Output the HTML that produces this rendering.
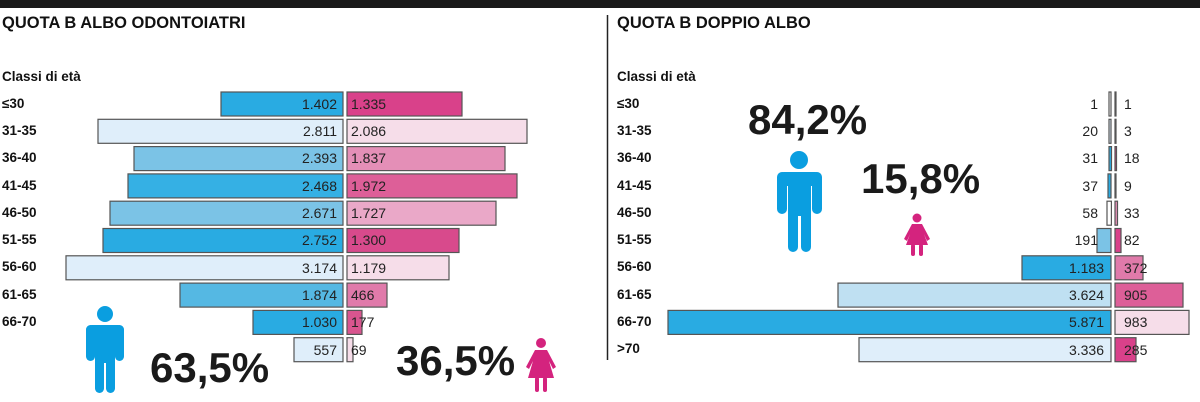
<!DOCTYPE html>
<html><head><meta charset="utf-8"><style>
body{margin:0;background:#fff}
svg{display:block}
.t{font:bold 16.5px "Liberation Sans",sans-serif;fill:#111}
.l{font:bold 13.5px "Liberation Sans",sans-serif;fill:#111}
.n{font:14px "Liberation Sans",sans-serif;fill:#222}
.p{font:bold 42px "Liberation Sans",sans-serif;fill:#1a1a1a}
rect.b{stroke:#555;stroke-width:1.2}
</style></head><body>
<svg width="1200" height="402" viewBox="0 0 1200 402">
<rect x="0" y="0" width="1200" height="8" fill="#1a1a1a"/>
<text class="t" x="2" y="28">QUOTA B ALBO ODONTOIATRI</text>
<text class="t" x="617" y="28">QUOTA B DOPPIO ALBO</text>
<line x1="607.5" y1="15" x2="607.5" y2="360" stroke="#222" stroke-width="1.5"/>
<text class="l" x="2" y="81">Classi di età</text>
<text class="l" x="617" y="81">Classi di età</text>
<g class="l">
<text x="2" y="108">≤30</text><text x="2" y="135">31-35</text><text x="2" y="162">36-40</text><text x="2" y="190">41-45</text><text x="2" y="217">46-50</text><text x="2" y="244">51-55</text><text x="2" y="271">56-60</text><text x="2" y="299">61-65</text><text x="2" y="326">66-70</text>
<text x="617" y="108">≤30</text><text x="617" y="135">31-35</text><text x="617" y="162">36-40</text><text x="617" y="190">41-45</text><text x="617" y="217">46-50</text><text x="617" y="244">51-55</text><text x="617" y="271">56-60</text><text x="617" y="299">61-65</text><text x="617" y="326">66-70</text><text x="617" y="353">&gt;70</text>
</g>
<rect class="b" x="221" y="92" width="122" height="24" fill="#29abe2"/>
<rect class="b" x="98" y="119.3" width="245" height="24" fill="#dfeefa"/>
<rect class="b" x="134" y="146.6" width="209" height="24" fill="#7bc3e6"/>
<rect class="b" x="128" y="173.9" width="215" height="24" fill="#35b0e4"/>
<rect class="b" x="110" y="201.2" width="233" height="24" fill="#7bc3e6"/>
<rect class="b" x="103" y="228.5" width="240" height="24" fill="#29abe2"/>
<rect class="b" x="66" y="255.8" width="277" height="24" fill="#dfeefa"/>
<rect class="b" x="180" y="283.1" width="163" height="24" fill="#55b8e3"/>
<rect class="b" x="253" y="310.4" width="90" height="24" fill="#29abe2"/>
<rect class="b" x="294" y="337.7" width="49" height="24" fill="#dfeefa"/>
<g class="n" text-anchor="end">
<text x="337" y="109">1.402</text><text x="337" y="136">2.811</text><text x="337" y="163">2.393</text><text x="337" y="191">2.468</text><text x="337" y="218">2.671</text><text x="337" y="245">2.752</text><text x="337" y="273">3.174</text><text x="337" y="300">1.874</text><text x="337" y="327">1.030</text><text x="337" y="355">557</text>
</g>
<rect class="b" x="347" y="92" width="115" height="24" fill="#d9418a"/>
<rect class="b" x="347" y="119.3" width="180" height="24" fill="#f6dde9"/>
<rect class="b" x="347" y="146.6" width="158" height="24" fill="#e48fb7"/>
<rect class="b" x="347" y="173.9" width="170" height="24" fill="#dd5f98"/>
<rect class="b" x="347" y="201.2" width="149" height="24" fill="#eaa8c8"/>
<rect class="b" x="347" y="228.5" width="112" height="24" fill="#d84a8c"/>
<rect class="b" x="347" y="255.8" width="102" height="24" fill="#f6dde9"/>
<rect class="b" x="347" y="283.1" width="40" height="24" fill="#e07aaa"/>
<rect class="b" x="347" y="310.4" width="15" height="24" fill="#d9558f"/>
<rect class="b" x="347" y="337.7" width="6" height="24" fill="#f6dde9"/>
<g class="n">
<text x="351" y="109">1.335</text><text x="351" y="136">2.086</text><text x="351" y="163">1.837</text><text x="351" y="191">1.972</text><text x="351" y="218">1.727</text><text x="351" y="245">1.300</text><text x="351" y="273">1.179</text><text x="351" y="300">466</text><text x="351" y="327">177</text><text x="351" y="355">69</text>
</g>
<rect class="b" x="1109" y="92" width="2" height="24" fill="#fff"/>
<rect class="b" x="1109" y="119.3" width="2" height="24" fill="#dfeefa"/>
<rect class="b" x="1109" y="146.6" width="2.5" height="24" fill="#29abe2"/>
<rect class="b" x="1108" y="173.9" width="3" height="24" fill="#29abe2"/>
<rect class="b" x="1107" y="201.2" width="4.4" height="24" fill="#fff"/>
<rect class="b" x="1097" y="228.5" width="14" height="24" fill="#7bc3e6"/>
<rect class="b" x="1022" y="255.8" width="89" height="24" fill="#29abe2"/>
<rect class="b" x="838" y="283.1" width="273" height="24" fill="#bfe0f2"/>
<rect class="b" x="668" y="310.4" width="443" height="24" fill="#29abe2"/>
<rect class="b" x="859" y="337.7" width="252" height="24" fill="#dfeefa"/>
<g class="n" text-anchor="end">
<text x="1098" y="109">1</text><text x="1098" y="136">20</text><text x="1098" y="163">31</text><text x="1098" y="191">37</text><text x="1098" y="218">58</text><text x="1098" y="245">191</text><text x="1104" y="273">1.183</text><text x="1104" y="300">3.624</text><text x="1104" y="327">5.871</text><text x="1104" y="355">3.336</text>
</g>
<rect class="b" x="1115" y="92" width="1" height="24" fill="#fff"/>
<rect class="b" x="1115" y="119.3" width="1" height="24" fill="#fff"/>
<rect class="b" x="1115" y="146.6" width="1.5" height="24" fill="#d9418a"/>
<rect class="b" x="1115" y="173.9" width="1" height="24" fill="#d9418a"/>
<rect class="b" x="1115" y="201.2" width="2.5" height="24" fill="#e48fb7"/>
<rect class="b" x="1115" y="228.5" width="6" height="24" fill="#d9418a"/>
<rect class="b" x="1115" y="255.8" width="28" height="24" fill="#e07aaa"/>
<rect class="b" x="1115" y="283.1" width="68" height="24" fill="#dd5f98"/>
<rect class="b" x="1115" y="310.4" width="74" height="24" fill="#f6dde9"/>
<rect class="b" x="1115" y="337.7" width="21" height="24" fill="#d9418a"/>
<g class="n">
<text x="1124" y="109">1</text><text x="1124" y="136">3</text><text x="1124" y="163">18</text><text x="1124" y="191">9</text><text x="1124" y="218">33</text><text x="1124" y="245">82</text><text x="1124" y="273">372</text><text x="1124" y="300">905</text><text x="1124" y="327">983</text><text x="1124" y="355">285</text>
</g>
<text class="p" x="150" y="382">63,5%</text>
<text class="p" x="396" y="375">36,5%</text>
<text class="p" x="748" y="134">84,2%</text>
<text class="p" x="861" y="193">15,8%</text>
<g fill="#0a9ee0">
<circle cx="105" cy="314" r="8"/>
<rect x="86" y="325" width="38" height="12" rx="6"/>
<rect x="86" y="325" width="9" height="36" rx="4.5"/>
<rect x="115" y="325" width="9" height="36" rx="4.5"/>
<rect x="95" y="325" width="20" height="38"/>
<rect x="95" y="355" width="9" height="38" rx="4.5"/>
<rect x="106" y="355" width="9" height="38" rx="4.5"/>
</g>
<g fill="#0a9ee0">
<circle cx="799" cy="160" r="9"/>
<rect x="777" y="172" width="45" height="14" rx="7"/>
<rect x="777" y="172" width="10" height="42" rx="5"/>
<rect x="812" y="172" width="10" height="42" rx="5"/>
<rect x="788" y="172" width="23" height="44"/>
<rect x="788" y="206" width="10" height="46" rx="5"/>
<rect x="801" y="206" width="10" height="46" rx="5"/>
</g>
<g fill="#d4237e">
<circle cx="541" cy="343" r="5"/>
<path d="M535 350 H547 L556 367 L553 369 L549 361 L554 378 H528 L533 361 L529 369 L526 367 Z"/>
<rect x="535" y="377" width="4" height="15" rx="2"/>
<rect x="543" y="377" width="4" height="15" rx="2"/>
</g>
<g fill="#d4237e">
<circle cx="917" cy="218" r="4.5"/>
<path d="M912 224 H922 L930 239 L927 241 L924 234 L928 245 H906 L910 234 L907 241 L904 239 Z"/>
<rect x="911" y="244" width="4" height="12" rx="2"/>
<rect x="919" y="244" width="4" height="12" rx="2"/>
</g>
</svg>
</body></html>
